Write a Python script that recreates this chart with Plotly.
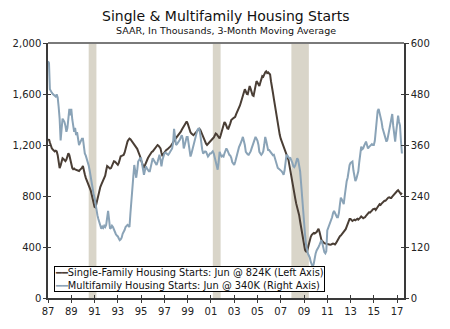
import pandas as pd
import plotly.graph_objects as go

# Monthly 3-month moving averages, SAAR, thousands of units (Jan 1987 - Jun 2017)
single_family = [
    1235, 1245, 1220, 1190, 1174, 1165, 1160, 1150, 1155, 1150, 1120, 1060,  # 1987
    1019, 1040, 1080, 1096, 1090, 1080, 1073, 1085, 1110, 1135, 1120, 1080,  # 1988
    1040, 1019, 1010, 1015, 1008, 1006, 1000, 998, 996, 1005, 1010, 1020,    # 1989
    1035, 1010, 970, 942, 925, 905, 890, 870, 845, 813, 780, 740,            # 1990
    715, 710, 740, 788, 820, 850, 870, 890, 905, 925, 942, 960,              # 1991
    1000, 1035, 1030, 1020, 1015, 1019, 1040, 1060, 1073, 1070, 1060, 1050,  # 1992
    1045, 1060, 1085, 1112, 1115, 1118, 1122, 1140, 1180, 1210, 1228, 1240,  # 1993
    1250, 1245, 1235, 1228, 1220, 1210, 1200, 1190, 1170, 1150, 1135, 1110,  # 1994
    1080, 1060, 1040, 1019, 1040, 1065, 1085, 1096, 1110, 1125, 1135, 1145,  # 1995
    1150, 1160, 1170, 1180, 1190, 1200, 1195, 1185, 1174, 1140, 1112, 1130,  # 1996
    1145, 1155, 1161, 1165, 1170, 1180, 1187, 1195, 1205, 1220, 1235, 1245,  # 1997
    1251, 1260, 1270, 1277, 1290, 1305, 1320, 1335, 1345, 1354, 1370, 1385,  # 1998
    1370, 1340, 1315, 1300, 1290, 1280, 1277, 1285, 1295, 1302, 1310, 1320,  # 1999
    1328, 1320, 1300, 1280, 1266, 1250, 1230, 1210, 1200, 1210, 1220, 1228,  # 2000
    1235, 1245, 1251, 1260, 1275, 1290, 1285, 1270, 1260, 1251, 1275, 1302,  # 2001
    1330, 1360, 1380, 1370, 1350, 1330, 1328, 1345, 1370, 1395, 1405, 1410,  # 2002
    1415, 1420, 1440, 1455, 1470, 1490, 1510, 1535, 1565, 1600, 1630, 1637,  # 2003
    1620, 1600, 1598, 1630, 1663, 1640, 1610, 1590, 1585, 1620, 1670, 1701,  # 2004
    1690, 1675, 1663, 1690, 1715, 1740, 1735, 1755, 1770, 1778, 1765, 1770,  # 2005
    1760, 1753, 1700, 1663, 1610, 1560, 1508, 1460, 1410, 1354, 1320, 1280,  # 2006
    1250, 1228, 1210, 1190, 1174, 1150, 1120, 1100, 1083, 1040, 990, 942,    # 2007
    900, 860, 813, 780, 740, 710, 687, 650, 600, 556, 500, 440,              # 2008
    395, 378, 365, 363, 390, 430, 470, 480, 495, 504, 510, 505,              # 2009
    510, 517, 530, 543, 520, 470, 456, 445, 435, 430, 427, 425,              # 2010
    420, 416, 414, 418, 420, 425, 427, 425, 420, 430, 445, 460,              # 2011
    479, 485, 490, 500, 510, 520, 533, 540, 560, 585, 605, 620,              # 2012
    620, 612, 605, 610, 615, 610, 620, 622, 615, 620, 630, 640,              # 2013
    630, 625, 630, 633, 645, 655, 660, 672, 670, 675, 685, 695,              # 2014
    697, 700, 690, 705, 715, 725, 736, 730, 740, 748, 755, 762,              # 2015
    762, 775, 780, 788, 790, 785, 785, 795, 805, 815, 826, 830,              # 2016
    839, 845, 835, 825, 815, 824,                                            # 2017
]

multifamily = [
    557, 553, 491, 485, 483, 480, 478, 476, 474, 479, 472, 450,  # 1987
    422, 371, 395, 422, 418, 414, 405, 391, 400, 425, 445, 430,  # 1988
    445, 420, 405, 391, 400, 383, 390, 375, 360, 365, 372, 375,  # 1989
    375, 350, 340, 335, 328, 321, 312, 300, 285, 267, 255, 245,  # 1990
    236, 220, 205, 195, 186, 178, 170, 163, 168, 165, 170, 167,  # 1991
    172, 185, 205, 185, 163, 165, 170, 167, 160, 155, 150, 147,  # 1992
    145, 140, 136, 138, 142, 151, 155, 160, 167, 170, 172, 170,  # 1993
    167, 200, 236, 259, 285, 313, 295, 283, 300, 321, 325, 329,  # 1994
    329, 315, 300, 290, 300, 310, 305, 300, 298, 298, 310, 320,  # 1995
    329, 325, 320, 315, 313, 320, 330, 337, 325, 310, 325, 335,  # 1996
    340, 342, 340, 338, 337, 340, 345, 350, 352, 365, 398, 380,  # 1997
    360, 362, 365, 368, 372, 378, 383, 375, 352, 360, 370, 379,  # 1998
    379, 365, 345, 333, 340, 350, 360, 370, 380, 391, 395, 398,  # 1999
    398, 385, 365, 350, 340, 342, 345, 344, 338, 333, 336, 340,  # 2000
    340, 342, 345, 340, 330, 321, 310, 302, 320, 344, 338, 333,  # 2001
    335, 333, 340, 345, 352, 348, 340, 337, 335, 330, 320, 315,  # 2002
    313, 320, 330, 337, 345, 355, 360, 365, 372, 379, 370, 360,  # 2003
    344, 340, 338, 337, 340, 345, 352, 360, 365, 372, 379, 375,  # 2004
    370, 360, 344, 340, 337, 340, 345, 360, 379, 370, 355, 348,  # 2005
    348, 345, 340, 337, 336, 337, 330, 320, 310, 306, 304, 302,  # 2006
    302, 298, 295, 290, 300, 320, 337, 335, 330, 328, 329, 325,  # 2007
    318, 310, 308, 312, 320, 329, 325, 310, 298, 270, 236, 200,  # 2008
    174, 150, 128, 115, 105, 100, 95, 85, 78, 74, 80, 95,        # 2009
    105, 112, 118, 120, 125, 130, 136, 128, 113, 108, 105, 110,  # 2010
    159, 165, 170, 174, 180, 190, 200, 205, 200, 195, 190, 190,  # 2011
    200, 220, 236, 232, 225, 221, 240, 260, 275, 283, 300, 313,  # 2012
    318, 320, 321, 300, 283, 275, 280, 290, 298, 320, 345, 356,  # 2013
    350, 352, 358, 362, 368, 360, 352, 355, 358, 360, 362, 360,  # 2014
    360, 370, 398, 420, 440, 445, 435, 429, 415, 400, 391, 380,  # 2015
    375, 368, 372, 385, 398, 415, 430, 433, 405, 380, 368, 390,  # 2016
    420, 429, 415, 406, 370, 340,                                # 2017
]

months = pd.date_range("1987-01-01", periods=len(single_family), freq="MS")

# NBER recessions
recessions = [("1990-07-01", "1991-03-01"), ("2001-03-01", "2001-11-01"), ("2007-12-01", "2009-06-01")]

x_ticks = [f"{y}-01-01" for y in range(1987, 2018, 2)]
x_tick_labels = [f"{y % 100:02d}" for y in range(1987, 2018, 2)]
left_ticks = [0, 400, 800, 1200, 1600, 2000]
right_ticks = [0, 120, 240, 360, 480, 600]

sf_label = "Single-Family Housing Starts: Jun @ 824K (Left Axis)"
mf_label = "Multifamily Housing Starts: Jun @ 340K (Right Axis)"

SF_COLOR = "#4a3e35"
MF_COLOR = "#8aa3b7"
SHADE = "#d9d5c9"
AXIS = "#3a3a3a"
FONT = "DejaVu Sans"
x_range = ["1987-01-01", "2017-08-05"]

fig = go.Figure()
fig.add_trace(go.Scatter(
    x=months, y=single_family, mode="lines", yaxis="y", name=sf_label,
    line=dict(color=SF_COLOR, width=2), showlegend=False,
))
fig.add_trace(go.Scatter(
    x=months, y=multifamily, mode="lines", yaxis="y2", name=mf_label,
    line=dict(color=MF_COLOR, width=2), showlegend=False,
))
# empty traces that register the inner tick axes so ticks cross the axis lines
fig.add_trace(go.Scatter(x=months[:1], y=[None], xaxis="x2", yaxis="y3",
                         showlegend=False, hoverinfo="skip"))
fig.add_trace(go.Scatter(x=months[:1], y=[None], xaxis="x2", yaxis="y4",
                         showlegend=False, hoverinfo="skip"))

for start, end in recessions:
    fig.add_shape(type="rect", xref="x", yref="paper", x0=start, x1=end, y0=0, y1=1,
                  fillcolor=SHADE, line_width=0, layer="below")

# top frame line
fig.add_shape(type="line", xref="paper", yref="paper", x0=0, x1=1, y0=1, y1=1,
              line=dict(color="#7a7a7a", width=2))

# title and subtitle
fig.add_annotation(text="Single & Multifamily Housing Starts", xref="paper", yref="paper",
                   x=0.5, y=1.104, xanchor="center", yanchor="middle", showarrow=False,
                   font=dict(family=FONT, size=14, color="#111111"))
fig.add_annotation(text="SAAR, In Thousands, 3-Month Moving Average", xref="paper", yref="paper",
                   x=0.5, y=1.05, xanchor="center", yanchor="middle", showarrow=False,
                   font=dict(family=FONT, size=9.5, color="#111111"))

# boxed key in the lower left
legend_text = (f"<span style='color:{SF_COLOR}'>━━</span>{sf_label}<br>"
               f"<span style='color:{MF_COLOR}'>━━</span>{mf_label}")
fig.add_annotation(text=legend_text, xref="paper", yref="paper",
                   x=0.017, y=0.023, xanchor="left", yanchor="bottom", align="left",
                   showarrow=False, bgcolor="white", bordercolor="#000000", borderwidth=1,
                   borderpad=0, font=dict(family=FONT, size=9.8, color="#111111"))

tick_font = dict(family=FONT, size=10, color="#222222")

fig.update_layout(
    width=450, height=329,
    margin=dict(l=48, r=46, t=43, b=27),
    paper_bgcolor="white", plot_bgcolor="white",
    font=dict(family=FONT, color="#222222"),
    showlegend=False,
    xaxis=dict(
        type="date", range=x_range, tickvals=x_ticks, ticktext=x_tick_labels,
        showgrid=False, zeroline=False, showline=True, linecolor=AXIS, linewidth=1.5,
        ticks="outside", ticklen=3, tickcolor=AXIS, tickfont=tick_font,
    ),
    xaxis2=dict(
        type="date", overlaying="x", side="bottom", anchor="y",
        range=x_range, tickvals=x_ticks, showticklabels=False,
        showgrid=False, zeroline=False, showline=False,
        ticks="inside", ticklen=3, tickcolor=AXIS,
    ),
    yaxis=dict(
        range=[0, 2000], tickvals=left_ticks, tickformat=",",
        showgrid=False, zeroline=False, showline=True, linecolor=AXIS, linewidth=1.5,
        ticks="outside", ticklen=3, tickcolor=AXIS, tickfont=tick_font,
    ),
    yaxis2=dict(
        range=[0, 600], tickvals=right_ticks, overlaying="y", side="right",
        showgrid=False, zeroline=False, showline=True, linecolor=AXIS, linewidth=1.5,
        ticks="outside", ticklen=3, tickcolor=AXIS, tickfont=tick_font,
    ),
    yaxis3=dict(
        range=[0, 2000], tickvals=left_ticks, overlaying="y", side="left", anchor="x",
        showticklabels=False, showgrid=False, zeroline=False, showline=False,
        ticks="inside", ticklen=3, tickcolor=AXIS,
    ),
    yaxis4=dict(
        range=[0, 600], tickvals=right_ticks, overlaying="y", side="right", anchor="x",
        showticklabels=False, showgrid=False, zeroline=False, showline=False,
        ticks="inside", ticklen=3, tickcolor=AXIS,
    ),
)

fig.write_html("out.html")
